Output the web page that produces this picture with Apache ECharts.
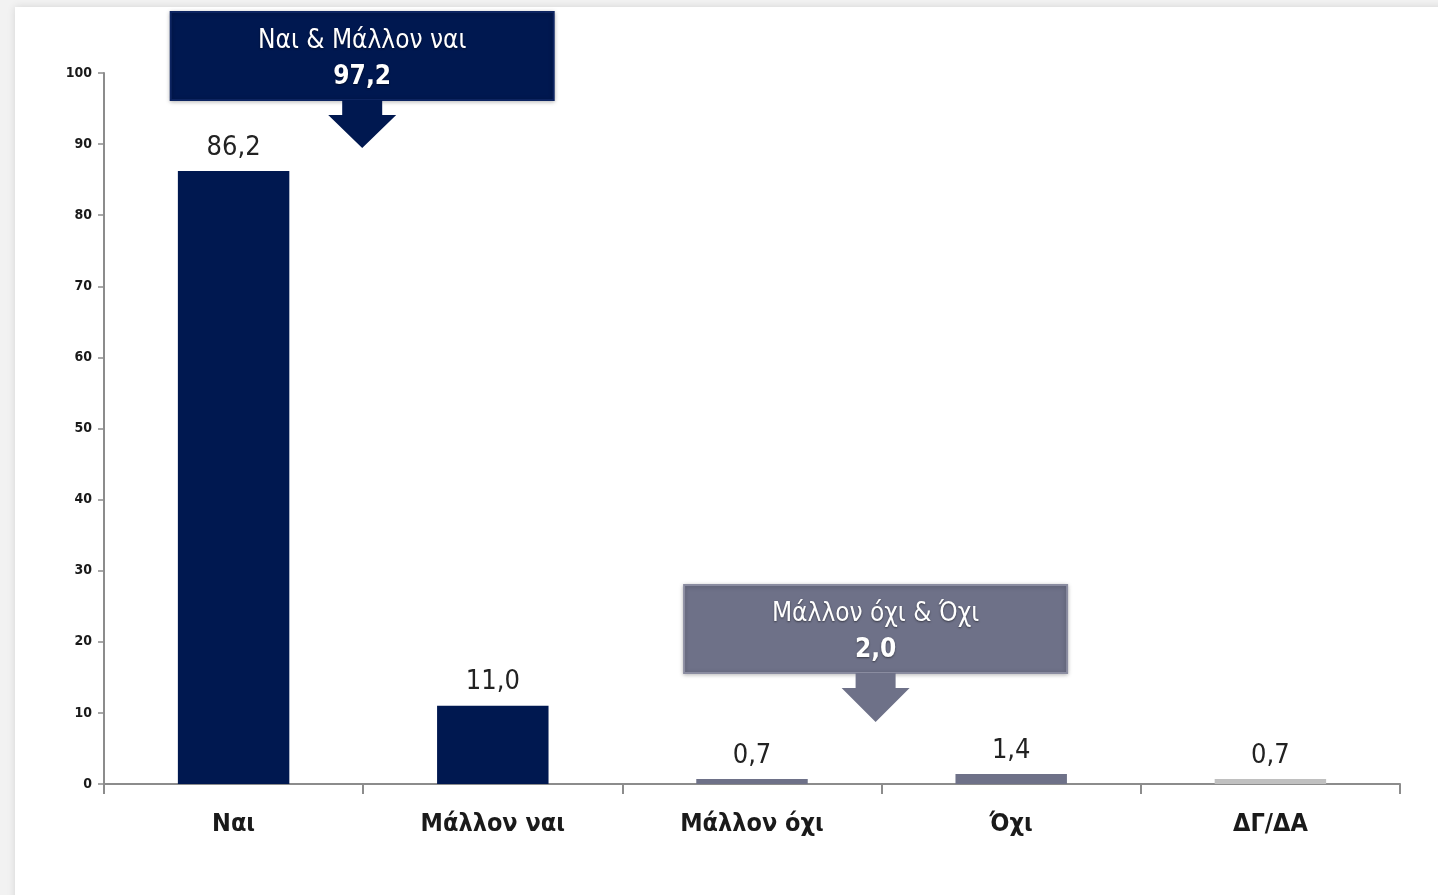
<!DOCTYPE html>
<html>
<head>
<meta charset="utf-8">
<script src="https://cdn.jsdelivr.net/npm/echarts@6/dist/echarts.min.js"></script>
<style>
html,body{margin:0;padding:0;background:#f2f2f2;}
#panel{position:absolute;left:15px;top:7px;width:1440px;height:900px;background:#fff;box-shadow:0 0 8px rgba(0,0,0,0.12);}
#chart{position:absolute;left:0;top:0;width:1438px;height:895px;}
</style>
</head>
<body>
<div id="panel"></div>
<div id="chart"></div>
<script>
var categories = ['Ναι', 'Μάλλον ναι', 'Μάλλον όχι', 'Όχι', 'ΔΓ/ΔΑ'];
var values = [86.2, 11.0, 0.7, 1.4, 0.7];
var barColors = ['#001850', '#001850', '#6e7188', '#6e7188', '#c0c0c0'];
var yTicks = [0, 10, 20, 30, 40, 50, 60, 70, 80, 90, 100];
var calloutTitles = ['Ναι & Μάλλον ναι', 'Μάλλον όχι & Όχι'];
var calloutValues = [97.2, 2.0];
var calloutPairs = [[0, 1], [2, 3]];
var calloutColors = ['#001850', '#6e7188'];

var FONT = "'Liberation Sans Narrow','DejaVu Sans Condensed',sans-serif";
function fmt(v){ return v.toFixed(1).replace('.', ','); }

var chart = echarts.init(document.getElementById('chart'), null, {renderer:'canvas'});
var option = {
  backgroundColor: 'transparent',
  animation: false,
  grid: {left: 104, right: 38, top: 73, bottom: 111, containLabel: false},
  xAxis: {
    type: 'category',
    data: categories,
    axisLine: {lineStyle: {color: '#8c8c8c', width: 2}},
    axisTick: {show: true, length: 10, lineStyle: {color: '#8c8c8c', width: 2}},
    axisLabel: {color: '#1a1a1a', fontFamily: FONT, fontWeight: 'bold', fontSize: 25, margin: 28}
  },
  yAxis: {
    type: 'value',
    min: yTicks[0], max: yTicks[yTicks.length-1], interval: 10,
    axisLine: {show: true, lineStyle: {color: '#8c8c8c', width: 2}},
    axisTick: {show: true, length: 6, lineStyle: {color: '#8c8c8c', width: 1.5}},
    splitLine: {show: false},
    axisLabel: {color: '#1a1a1a', fontFamily: FONT, fontWeight: 'bold', fontSize: 14, margin: 12}
  },
  series: [{
    type: 'bar',
    barWidth: '43%',
    data: values.map(function(v, i){ return {value: v, itemStyle: {color: barColors[i]}}; }),
    label: {
      show: true, position: 'top', distance: 10,
      color: '#222', fontFamily: FONT, fontSize: 27,
      formatter: function(p){ return fmt(p.value); }
    }
  }]
};
chart.setOption(option);

function callout(idx, boxTop, tipY, shift){
  var a = chart.convertToPixel({xAxisIndex: 0}, categories[calloutPairs[idx][0]]);
  var b = chart.convertToPixel({xAxisIndex: 0}, categories[calloutPairs[idx][1]]);
  var cx = (a + b) / 2 + shift;
  var w = 383, h = 88, col = calloutColors[idx];
  var boxBottom = boxTop + h;
  var headTop = boxBottom + 15;
  return [{
    type: 'rect', shape: {x: cx - w/2, y: boxTop, width: w, height: h},
    style: {fill: col, stroke: idx === 0 ? '#0d2460' : '#8a8ca0', lineWidth: 2,
      shadowBlur: 4, shadowColor: 'rgba(0,0,0,0.25)', shadowOffsetY: 1}
  }, {
    type: 'polygon',
    shape: {points: [[cx-20, boxBottom], [cx+20, boxBottom], [cx+20, headTop], [cx+34, headTop], [cx, tipY], [cx-34, headTop], [cx-20, headTop]]},
    style: {fill: col}
  }, {
    type: 'text', x: cx, y: boxTop + 29,
    style: {text: calloutTitles[idx], fill: '#fff', font: '26px ' + FONT, align: 'center', verticalAlign: 'middle',
      textShadowColor: 'rgba(0,0,0,0.5)', textShadowBlur: 2, textShadowOffsetY: 1}
  }, {
    type: 'text', x: cx, y: boxTop + 65,
    style: {text: fmt(calloutValues[idx]), fill: '#fff', font: 'bold 26px ' + FONT, align: 'center', verticalAlign: 'middle',
      textShadowColor: 'rgba(0,0,0,0.5)', textShadowBlur: 2, textShadowOffsetY: 1}
  }];
}
chart.setOption({graphic: {elements: callout(0, 12, 148, -1).concat(callout(1, 585, 722, -6))}});
</script>
</body>
</html>
